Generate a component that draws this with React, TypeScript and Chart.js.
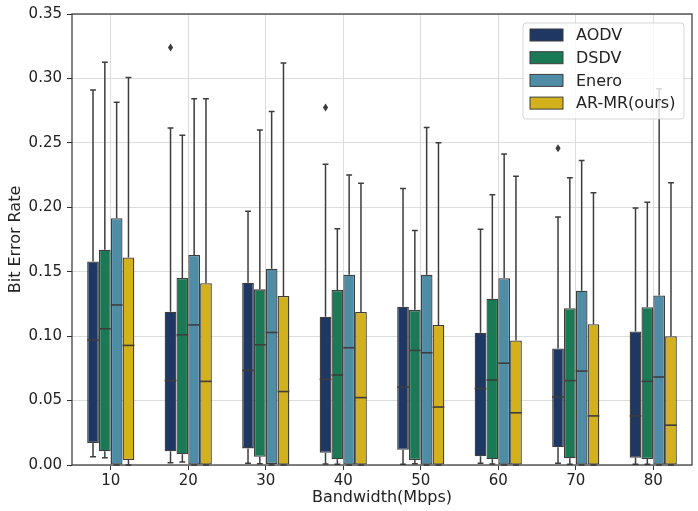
import React, { useEffect, useRef } from "react";
import { Chart, registerables } from "chart.js";

Chart.register(...registerables);

const categories = ["10", "20", "30", "40", "50", "60", "70", "80"];
const seriesNames = ["AODV", "DSDV", "Enero", "AR-MR(ours)"];
const seriesColors = ["#1f3763", "#1b7a56", "#4f8da7", "#d3b11c"];
const yTicks = [0, 0.05, 0.1, 0.15, 0.2, 0.25, 0.3, 0.35];

// five-number summaries per category: [whiskerLow, q1, median, q3, whiskerHigh]
const aodvStats = [
  [0.0064, 0.017, 0.097, 0.158, 0.291],
  [0.0018, 0.0106, 0.0655, 0.119, 0.2615],
  [0.0013, 0.0129, 0.0734, 0.1415, 0.197],
  [0.0008, 0.0095, 0.0665, 0.115, 0.2334],
  [0.0005, 0.0118, 0.0605, 0.1229, 0.2146],
  [0.0013, 0.0067, 0.0593, 0.1026, 0.183],
  [0.0013, 0.0137, 0.0528, 0.0904, 0.1925],
  [0.0005, 0.0057, 0.0381, 0.1036, 0.1994],
];
const dsdvStats = [
  [0.0057, 0.0106, 0.1057, 0.167, 0.3125],
  [0.0023, 0.0083, 0.101, 0.1451, 0.2559],
  [0.001, 0.0064, 0.0933, 0.1363, 0.26],
  [0.0005, 0.0044, 0.0698, 0.1358, 0.1834],
  [0.001, 0.0039, 0.0889, 0.1204, 0.1819],
  [0.0008, 0.0044, 0.066, 0.1291, 0.2097],
  [0.0005, 0.0052, 0.0655, 0.1216, 0.2229],
  [0.0005, 0.0046, 0.0649, 0.1224, 0.204],
];
const eneroStats = [
  [0, 0, 0.1242, 0.1915, 0.2816],
  [0, 0, 0.1087, 0.163, 0.2842],
  [0, 0.0008, 0.1028, 0.1523, 0.2744],
  [0, 0, 0.091, 0.1476, 0.225],
  [0, 0, 0.0871, 0.1476, 0.262],
  [0, 0, 0.079, 0.145, 0.2414],
  [0, 0, 0.0729, 0.1353, 0.2363],
  [0, 0, 0.0683, 0.1316, 0.292],
];
const armrStats = [
  [0, 0.0039, 0.0928, 0.161, 0.3007],
  [0, 0, 0.0649, 0.141, 0.2842],
  [0, 0, 0.057, 0.1312, 0.312],
  [0, 0, 0.0523, 0.1188, 0.2187],
  [0, 0, 0.045, 0.1087, 0.25],
  [0, 0, 0.0405, 0.0966, 0.224],
  [0, 0, 0.0381, 0.1092, 0.2113],
  [0, 0, 0.0309, 0.1, 0.219],
];
// outliers per category
const aodvOutliers = [[], [0.324], [], [0.2775], [], [], [0.2458], []];
const dsdvOutliers = [[], [], [], [], [], [], [], []];
const eneroOutliers = [[], [], [], [], [], [], [], []];
const armrOutliers = [[], [], [], [], [], [], [], []];

const allStats = [aodvStats, dsdvStats, eneroStats, armrStats];
const allOutliers = [aodvOutliers, dsdvOutliers, eneroOutliers, armrOutliers];

const FONT = "'DejaVu Sans', sans-serif";
const EDGE = "#3d3d3d";

const boxPlugin = {
  id: "boxWhiskers",
  afterDatasetsDraw(chart: any) {
    const ctx = chart.ctx;
    const y = chart.scales.y;
    ctx.save();
    allStats.forEach((stats, di) => {
      const meta = chart.getDatasetMeta(di);
      meta.data.forEach((el: any, j: number) => {
        const s = stats[j];
        const x = el.x;
        const w = el.width;
        const cap = w / 4;
        const yLo = y.getPixelForValue(s[0]);
        const yQ1 = y.getPixelForValue(s[1]);
        const yMed = y.getPixelForValue(s[2]);
        const yQ3 = y.getPixelForValue(s[3]);
        const yHi = y.getPixelForValue(s[4]);
        ctx.strokeStyle = EDGE;
        ctx.lineWidth = 1.5;
        ctx.beginPath();
        ctx.moveTo(x, yQ3);
        ctx.lineTo(x, yHi);
        ctx.moveTo(x - cap, yHi);
        ctx.lineTo(x + cap, yHi);
        ctx.moveTo(x, yQ1);
        ctx.lineTo(x, yLo);
        ctx.moveTo(x - cap, yLo);
        ctx.lineTo(x + cap, yLo);
        ctx.stroke();
        ctx.lineWidth = 1.6;
        ctx.beginPath();
        ctx.moveTo(x - w / 2, yMed);
        ctx.lineTo(x + w / 2, yMed);
        ctx.stroke();
        (allOutliers[di][j] || []).forEach((v: number) => {
          const py = y.getPixelForValue(v);
          ctx.fillStyle = EDGE;
          ctx.beginPath();
          ctx.moveTo(x, py - 4);
          ctx.lineTo(x + 2.6, py);
          ctx.lineTo(x, py + 4);
          ctx.lineTo(x - 2.6, py);
          ctx.closePath();
          ctx.fill();
        });
      });
    });
    ctx.restore();
  },
  afterDraw(chart: any) {
    const ctx = chart.ctx;
    const a = chart.chartArea;
    ctx.save();
    // spines
    ctx.strokeStyle = "#333333";
    ctx.lineWidth = 1.2;
    ctx.strokeRect(a.left, a.top, a.right - a.left, a.bottom - a.top);
    // legend
    const lw = 161;
    const lh = 96;
    const lx = a.right - 8 - lw;
    const ly = a.top + 9;
    const r = 3;
    ctx.beginPath();
    ctx.moveTo(lx + r, ly);
    ctx.lineTo(lx + lw - r, ly);
    ctx.quadraticCurveTo(lx + lw, ly, lx + lw, ly + r);
    ctx.lineTo(lx + lw, ly + lh - r);
    ctx.quadraticCurveTo(lx + lw, ly + lh, lx + lw - r, ly + lh);
    ctx.lineTo(lx + r, ly + lh);
    ctx.quadraticCurveTo(lx, ly + lh, lx, ly + lh - r);
    ctx.lineTo(lx, ly + r);
    ctx.quadraticCurveTo(lx, ly, lx + r, ly);
    ctx.closePath();
    ctx.fillStyle = "rgba(255,255,255,0.8)";
    ctx.fill();
    ctx.strokeStyle = "rgba(204,204,204,0.8)";
    ctx.lineWidth = 1;
    ctx.stroke();
    ctx.font = `16px ${FONT}`;
    ctx.textBaseline = "middle";
    chart.data.datasets.forEach((ds: any, i: number) => {
      const cy = ly + 12 + i * 22.7;
      ctx.fillStyle = ds.backgroundColor;
      ctx.fillRect(lx + 7, cy - 6, 33, 12);
      ctx.strokeStyle = EDGE;
      ctx.lineWidth = 1;
      ctx.strokeRect(lx + 7, cy - 6, 33, 12);
      ctx.fillStyle = "#222222";
      ctx.fillText(ds.label, lx + 53, cy + 1);
    });
    ctx.restore();
  },
};

export default function App() {
  const ref = useRef<HTMLCanvasElement>(null);
  useEffect(() => {
    if (!ref.current) return;
    const chart = new Chart(ref.current, {
      type: "bar",
      data: {
        labels: categories,
        datasets: seriesNames.map((name, i) => ({
          label: name,
          data: allStats[i].map((s) => [s[1], s[3]]),
          backgroundColor: seriesColors[i],
          borderColor: EDGE,
          borderWidth: 1.3,
          borderSkipped: false,
          categoryPercentage: 0.61,
          barPercentage: 0.99,
        })),
      } as any,
      options: {
        animation: false,
        responsive: false,
        maintainAspectRatio: false,
        layout: { padding: { top: 12, right: 6, left: 0, bottom: 0 } },
        plugins: { legend: { display: false }, tooltip: { enabled: false } },
        scales: {
          x: {
            offset: true,
            grid: { offset: false, color: "#dcdcdc", lineWidth: 1, tickColor: "#333333", tickLength: 5 },
            border: { display: false },
            ticks: { font: { family: FONT, size: 15 }, color: "#222222", padding: 2 },
            title: {
              display: true,
              text: "Bandwidth(Mbps)",
              font: { family: FONT, size: 16 },
              color: "#222222",
              padding: { top: 0, bottom: 4 },
            },
            afterFit: (s: any) => {
              s.height = 46;
            },
          },
          y: {
            min: 0,
            max: 0.35,
            afterBuildTicks: (s: any) => {
              s.ticks = yTicks.map((v) => ({ value: v }));
            },
            grid: { color: "#dcdcdc", lineWidth: 1, tickColor: "#333333", tickLength: 5 },
            border: { display: false },
            ticks: {
              font: { family: FONT, size: 15 },
              color: "#222222",
              padding: 5,
              callback: (v: any) => Number(v).toFixed(2),
            },
            title: {
              display: true,
              text: "Bit Error Rate",
              font: { family: FONT, size: 16 },
              color: "#222222",
              padding: { top: 6, bottom: 0 },
            },
            afterFit: (s: any) => {
              s.width = 72;
            },
          },
        },
      },
      plugins: [boxPlugin],
    });
    return () => chart.destroy();
  }, []);
  return (
    <div style={{ position: "absolute", left: 0, top: 0, width: 698, height: 511, background: "#fff" }}>
      <canvas ref={ref} width={698} height={511} style={{ width: 698, height: 511 }} />
    </div>
  );
}
